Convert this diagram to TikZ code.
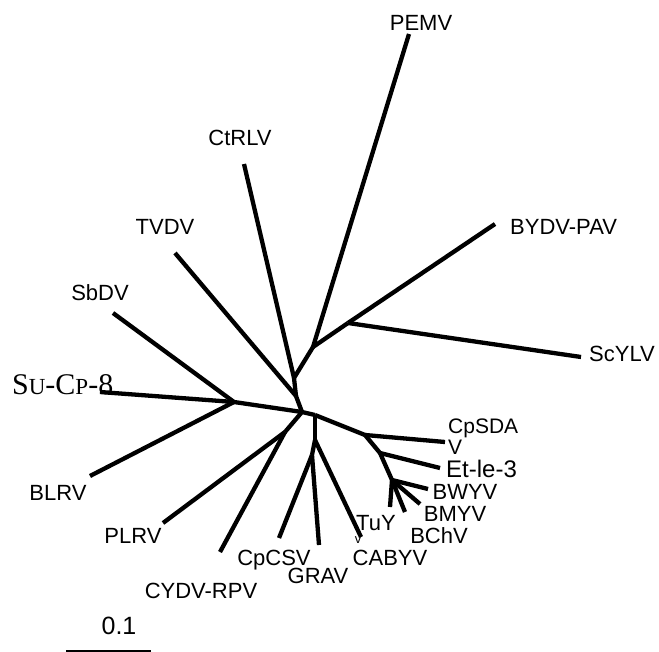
\documentclass[tikz,border=0pt]{standalone}
\usepackage{fontspec}
\setmainfont{Liberation Sans}
\newfontfamily\serifface{Liberation Serif}
\begin{document}
\begin{tikzpicture}[x=1pt,y=-1pt,
  br/.style={line width=4.3pt,line join=round},
  lab/.style={inner sep=0pt,anchor=base,font=\fontsize{22}{26}\selectfont},
  labw/.style={lab,anchor=base west}]
\useasboundingbox (0,0) rectangle (659,652);
% internal nodes
\coordinate (O) at (302,412);
\coordinate (H) at (234,402);
\coordinate (J) at (285,432);
\coordinate (N2) at (315,415);
\coordinate (N3) at (315,440);
\coordinate (N4) at (312,455);
\coordinate (R1) at (365,435);
\coordinate (R2) at (380,453);
\coordinate (R3) at (392,480);
\coordinate (T) at (296,396);
\coordinate (C) at (294,378);
\coordinate (P) at (313,347);
\coordinate (B) at (348,323);
% leaf ends
\coordinate (su) at (100,392);
\coordinate (sb) at (113,313);
\coordinate (bl) at (90,476);
\coordinate (pl) at (163,523);
\coordinate (cy) at (220,552);
\coordinate (cc) at (279,538);
\coordinate (gr) at (319,545);
\coordinate (ca) at (361,537);
\coordinate (sd) at (445,442);
\coordinate (et) at (440,468);
\coordinate (bw) at (428,489);
\coordinate (bm) at (420,504);
\coordinate (bc) at (405,512);
\coordinate (tu) at (390,507);
\coordinate (tv) at (175,253);
\coordinate (ct) at (244,164);
\coordinate (pe) at (409,34);
\coordinate (by) at (495,224);
\coordinate (sc) at (581,357);
% branches
\draw[br] (O) -- (H);
\draw[br] (H) -- (su);
\draw[br] (H) -- (sb);
\draw[br] (H) -- (bl);
\draw[br] (O) -- (J);
\draw[br] (J) -- (pl);
\draw[br] (J) -- (cy);
\draw[br] (O) -- (N2);
\draw[br] (N2) -- (N3);
\draw[br] (N3) -- (N4);
\draw[br] (N4) -- (cc);
\draw[br] (N4) -- (gr);
\draw[br] (N3) -- (ca);
\draw[br] (N2) -- (R1);
\draw[br] (R1) -- (sd);
\draw[br] (R1) -- (R2);
\draw[br] (R2) -- (et);
\draw[br] (R2) -- (R3);
\draw[br] (R3) -- (bw);
\draw[br] (R3) -- (bm);
\draw[br] (R3) -- (bc);
\draw[br] (R3) -- (tu);
\draw[br] (O) -- (T);
\draw[br] (T) -- (tv);
\draw[br] (T) -- (C);
\draw[br] (C) -- (ct);
\draw[br] (C) -- (P);
\draw[br] (P) -- (pe);
\draw[br] (P) -- (B);
\draw[br] (B) -- (by);
\draw[br] (B) -- (sc);
% labels
\node[lab] (lPE) at (421,31) {PEMV};
\node[lab] (lCT) at (240,146) {CtRLV};
\node[lab] (lTV) at (165,235) {TVDV};
\node[lab] (lSB) at (100,301) {SbDV};
\node[labw] (lBY) at (510,235) {BYDV-PAV};
\node[labw] (lSC) at (589,362) {ScYLV};
\node[inner sep=0pt,anchor=base west,font=\serifface\fontsize{30}{34}\selectfont] (lSU) at (12,395) {S{\fontsize{23}{26}\selectfont U}-C{\fontsize{23}{26}\selectfont P}-8};
\node[lab] (lBL) at (58,500) {BLRV};
\node[lab] (lPL) at (133,543) {PLRV};
\node[lab] (lCY) at (201,598) {CYDV-RPV};
\node[lab] (lCC) at (274,565) {CpCSV};
\node[lab] (lGR) at (318,583) {GRAV};
\node[lab] (lCA) at (390,565) {CABYV};
\node[lab] (lTU) at (376,530) {TuY};
\node[lab,font=\fontsize{13}{15}\selectfont] (lTUv) at (358,543) {v};
\node[lab] (lBC) at (439,543) {BChV};
\node[lab] (lBM) at (455,521) {BMYV};
\node[lab] (lBW) at (465,499) {BWYV};
\node[labw,font=\fontsize{24}{28}\selectfont] (lET) at (446,477) {Et-le-3};
\node[labw,font=\fontsize{21}{25}\selectfont] (lSD) at (448,433) {CpSDA};
\node[labw,font=\fontsize{21}{25}\selectfont] (lSDv) at (448,454) {V};
% scale bar
\coordinate (s1) at (66,651);
\coordinate (s2) at (151,651);
\draw[line width=1.5pt] (s1) -- (s2);
\node[lab,font=\fontsize{25}{29}\selectfont] (lsc) at (119,634) {0.1};
\end{tikzpicture}
\end{document}
